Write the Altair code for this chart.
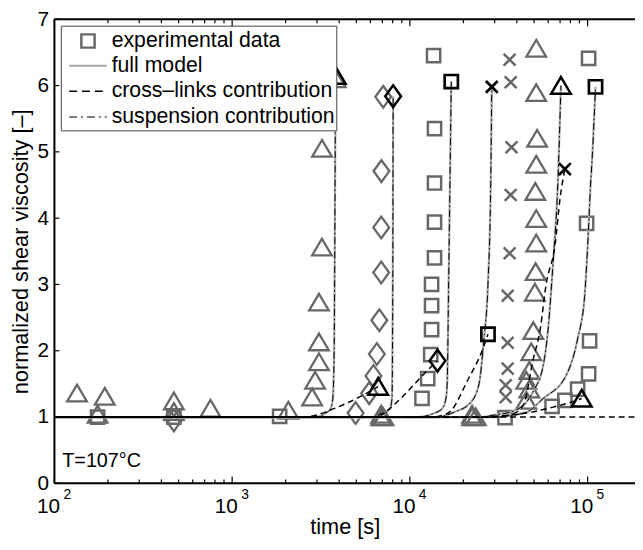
import altair as alt
import pandas as pd

W, H = 588, 470
XMAX = 184780
FONT = "Liberation Sans"
GRAY = "#676767"
LGRAY = "#a8a8a8"

# ---------------- experimental data (gray markers) ----------------
tri_t = [134, 192, 175, 470, 470, 755, 2070,
         2820, 2930, 3080, 3080, 3080, 3200, 3205, 3830,
         6900, 6900, 7100, 22400, 22400, 23500,
         51400, 51400, 52000, 51400, 50800, 51400, 51400, 51000, 50500, 49500,
         48200, 47000, 45200, 47000, 45200]
tri_v = [1.36, 1.31, 1.04, 1.24, 1.08, 1.13, 1.10,
         1.30, 1.55, 1.83, 2.13, 2.73, 3.56, 5.05, 6.10,
         1.00, 1.04, 1.00, 1.00, 1.04, 1.00,
         6.56, 5.89, 5.20, 4.81, 4.40, 3.99, 3.62, 3.19, 2.88, 2.30,
         1.98, 1.70, 1.55, 1.42, 1.25]

dia_t = [470, 4950, 5900, 6240, 6520, 6730, 6900, 6900, 6920, 7080]
dia_v = [0.95, 1.06, 1.36, 1.62, 1.95, 2.46, 3.18, 3.86, 4.71, 5.83]

sq_t = [175, 470, 1850, 11700, 12600, 13100, 13250, 13250, 13250, 13760, 13760,
        13760, 13760, 13600, 34300, 63100, 74500, 87900, 101300, 102600, 98700, 101300]
sq_v = [1.00, 1.00, 1.01, 1.28, 1.58, 1.94, 2.32, 2.68, 3.00, 3.40, 3.94,
        4.53, 5.35, 6.45, 0.99, 1.16, 1.25, 1.42, 1.65, 2.15, 3.92, 6.41]

x_t = [470, 34600, 34600, 35500, 35500, 35500, 36400, 36900, 37300, 36900, 36400]
x_v = [1.02, 1.30, 1.48, 1.73, 2.12, 2.83, 3.47, 4.35, 5.07, 6.05, 6.39]

# ---------------- black end markers ----------------
btri_t = [3830, 6630, 70800, 92700]
btri_v = [6.15, 1.46, 6.00, 1.28]
bdia_t = [8050, 14300]
bdia_v = [5.84, 1.85]
bsq_t = [17100, 27500, 110800]
bsq_v = [6.06, 2.25, 5.98]
bx_t = [28900, 74500]
bx_v = [5.98, 4.74]

# ---------------- model curves ----------------
full1_t = [100, 2900, 3370, 3590, 3690, 3750, 3780, 3800, 3830]
full1_v = [1, 1.0, 1.06, 1.13, 1.3, 2.0, 3.5, 5.0, 6.15]
full2_t = [100, 6300, 7260, 7740, 7940, 8000, 8030, 8050]
full2_v = [1, 1.0, 1.06, 1.13, 1.3, 2.5, 4.0, 5.84]
full3_t = [100, 11000, 13760, 15240, 16000, 16250, 16500, 16800, 17100]
full3_v = [1, 1.0, 1.06, 1.13, 1.3, 1.6, 2.9, 4.5, 6.06]
full4_t = [100, 14000, 18000, 22000, 24500, 26100, 27500, 28500, 28900]
full4_v = [1, 1.0, 1.08, 1.22, 1.5, 2.18, 3.0, 4.5, 5.98]
full5_t = [100, 25000, 29700, 38300, 49500, 56200, 59900, 63900, 68100, 70800]
full5_v = [1, 1.0, 1.03, 1.09, 1.39, 1.77, 2.32, 3.32, 4.56, 6.0]
full6_t = [100, 30000, 45000, 56200, 75500, 87900, 96200, 100000, 103900, 106600, 110800]
full6_v = [1, 1.0, 1.07, 1.28, 1.62, 2.18, 2.82, 3.56, 4.5, 5.0, 5.98]

cl1_t = [100, 2500, 3000, 3460, 4500, 5990, 6630]
cl1_v = [1, 1.0, 1.03, 1.09, 1.22, 1.39, 1.46]
cl2_t = [100, 6000, 7080, 8500, 9750, 12000, 14300]
cl2_v = [1, 1.0, 1.06, 1.23, 1.39, 1.65, 1.85]
cl3_t = [100, 13000, 15500, 17100, 21000, 26100, 27500]
cl3_v = [1, 1.0, 1.03, 1.10, 1.54, 2.07, 2.25]
cl4_t = [100, 30000, 38000, 43500, 49500, 54100, 58400, 65600, 70000, 74500]
cl4_v = [1, 1.0, 1.05, 1.18, 1.88, 2.32, 3.0, 3.6, 4.3, 4.74]
cl5_t = [100, 25000, 29700, 45000, 63900, 80000, 92700]
cl5_v = [1, 1.0, 1.01, 1.06, 1.15, 1.22, 1.28]
cl6_t = [100, 200000]
cl6_v = [1, 1]

# ---------------- axes ticks ----------------
major_t = [100, 1000, 10000, 100000]
exp_lab = ["2", "3", "4", "5"]
minor_t = [m * d for d in (100, 1000, 10000) for m in range(2, 10)]
y_ticks = [0, 1, 2, 3, 4, 5, 6, 7]

SQ = "M-1,-1L1,-1L1,1L-1,1Z"
TRI = "M0,-1L1.15,0.95L-1.15,0.95Z"
DIA = "M0,-1.1L0.8,0L0,1.1L-0.8,0Z"
XX = "M-1,-1L1,1M-1,1L1,-1"

xs = alt.Scale(type="log", domain=[100, XMAX], nice=False)
ys = alt.Scale(domain=[0, 7], nice=False)
xaxis = alt.Axis(labels=False, ticks=False, domain=False, grid=False, title="time [s]",
                 titlePadding=34, titleFontSize=22, titleFont=FONT, titleFontWeight="normal",
                 titleColor="black")
yaxis = alt.Axis(values=y_ticks, ticks=False, domain=False, grid=False, labelFontSize=21,
                 labelFont=FONT, labelColor="black", labelPadding=6,
                 title="normalized shear viscosity [\u2013]", titlePadding=5, titleFontSize=22,
                 titleFont=FONT, titleFontWeight="normal", titleColor="black")
X = alt.X("t:Q", scale=xs, axis=xaxis)
Y = alt.Y("v:Q", scale=ys, axis=yaxis)


def df(t, v):
    return pd.DataFrame({"t": t, "v": v})


one = pd.DataFrame({"a": [0]})
layers = []


def markers(t, v, shape, size, color, sw):
    return alt.Chart(df(t, v)).mark_point(shape=shape, size=size, filled=False, color=color,
                                          strokeWidth=sw, opacity=1).encode(x=X, y=Y)


def line(t, v, color, sw, dash=None, off=0):
    kw = dict(color=color, strokeWidth=sw, interpolate="monotone", clip=True)
    if dash:
        kw["strokeDash"] = dash
        kw["strokeDashOffset"] = off
    return alt.Chart(df(t, v)).mark_line(**kw).encode(x=X, y=Y)


# gray experimental markers
layers += [markers(tri_t, tri_v, TRI, 300, GRAY, 2.3),
           markers(dia_t, dia_v, DIA, 400, GRAY, 2.3),
           markers(sq_t, sq_v, SQ, 180, GRAY, 2.5),
           markers(x_t, x_v, XX, 144, GRAY, 2.5)]

fulls = [(full1_t, full1_v), (full2_t, full2_v), (full3_t, full3_v),
         (full4_t, full4_v), (full5_t, full5_v), (full6_t, full6_v)]
cls = [(cl1_t, cl1_v), (cl2_t, cl2_v), (cl3_t, cl3_v), (cl4_t, cl4_v),
       (cl5_t, cl5_v), (cl6_t, cl6_v)]
for t, v in fulls:
    layers.append(line(t, v, LGRAY, 2.2))
for i, (t, v) in enumerate(fulls):
    layers.append(line(t, v, "black", 1.0, [7, 3, 1.5, 3], off=i * 2.4))
for i, (t, v) in enumerate(cls):
    layers.append(line(t, v, "black", 1.5, [6, 4], off=i * 1.7))

# black markers
layers += [markers(btri_t, btri_v, TRI, 300, "black", 2.5),
           markers(bdia_t, bdia_v, DIA, 400, "black", 2.5),
           markers(bsq_t, bsq_v, SQ, 180, "black", 2.7),
           markers(bx_t, bx_v, XX, 144, "black", 2.7)]

# frame lines
layers.append(alt.Chart(one).mark_rule(color="black", strokeWidth=2).encode(
    x=alt.value(0), x2=alt.value(W), y=alt.value(0)))
layers.append(alt.Chart(one).mark_rule(color="black", strokeWidth=2).encode(
    x=alt.value(0), x2=alt.value(W), y=alt.value(H)))
layers.append(alt.Chart(one).mark_rule(color="black", strokeWidth=2).encode(
    x=alt.value(0), y=alt.value(0), y2=alt.value(H)))

# inward ticks
tmaj = pd.DataFrame({"t": major_t, "e": exp_lab})
tmin = pd.DataFrame({"t": minor_t})
for data, L in ((tmaj, 7), (tmin, 4)):
    layers.append(alt.Chart(data).mark_rule(color="black", strokeWidth=1.2).encode(
        x=X, y=alt.value(H), y2=alt.value(H - L)))
    layers.append(alt.Chart(data).mark_rule(color="black", strokeWidth=1.2).encode(
        x=X, y=alt.value(0), y2=alt.value(L)))
layers.append(alt.Chart(pd.DataFrame({"v": y_ticks})).mark_rule(color="black", strokeWidth=1.2).encode(
    y=Y, x=alt.value(0), x2=alt.value(5)))

# x tick labels 10^n
layers.append(alt.Chart(tmaj).mark_text(font=FONT, fontSize=21, dx=-6, baseline="middle",
                                        align="center", color="black").encode(
    x=X, y=alt.value(H + 24), text=alt.value("10")))
layers.append(alt.Chart(tmaj).mark_text(font=FONT, fontSize=14, dx=13, baseline="middle",
                                        align="center", color="black").encode(
    x=X, y=alt.value(H + 12), text="e:N"))

# annotation
layers.append(alt.Chart(one).mark_text(font=FONT, fontSize=20, align="left", baseline="middle",
                                       color="black").encode(
    x=alt.value(8), y=alt.value(H - 23), text=alt.value("T=107\u00b0C")))

# legend
layers.append(alt.Chart(one).mark_rect(fill="white", stroke="#444444", strokeWidth=1).encode(
    x=alt.value(7), x2=alt.value(286), y=alt.value(7), y2=alt.value(113)))
layers.append(alt.Chart(one).mark_point(shape=SQ, size=180, filled=False, color=GRAY,
                                        strokeWidth=2.5, opacity=1).encode(
    x=alt.value(34), y=alt.value(22)))
layers.append(alt.Chart(one).mark_rule(color=LGRAY, strokeWidth=2).encode(
    x=alt.value(15), x2=alt.value(53), y=alt.value(47)))
layers.append(alt.Chart(one).mark_rule(color="black", strokeWidth=1.5, strokeDash=[8, 5]).encode(
    x=alt.value(15), x2=alt.value(53), y=alt.value(73)))
layers.append(alt.Chart(one).mark_rule(color="black", strokeWidth=1.2, strokeDash=[8, 4, 2, 4]).encode(
    x=alt.value(15), x2=alt.value(53), y=alt.value(99)))
for lab, py in (("experimental data", 22), ("full model", 47),
                ("cross\u2013links contribution", 73), ("suspension contribution", 99)):
    layers.append(alt.Chart(one).mark_text(font=FONT, fontSize=21.5, align="left", baseline="middle",
                                           color="black").encode(
        x=alt.value(58), y=alt.value(py), text=alt.value(lab)))

chart = alt.layer(*layers).properties(
    width=W, height=H,
    padding={"left": 47, "top": 8, "right": 0, "bottom": 56},
    autosize=alt.AutoSizeParams(type="none"),
).configure_view(stroke=None).configure(background="white")

chart.save("out.html", embed_options={"renderer": "svg", "actions": False})
